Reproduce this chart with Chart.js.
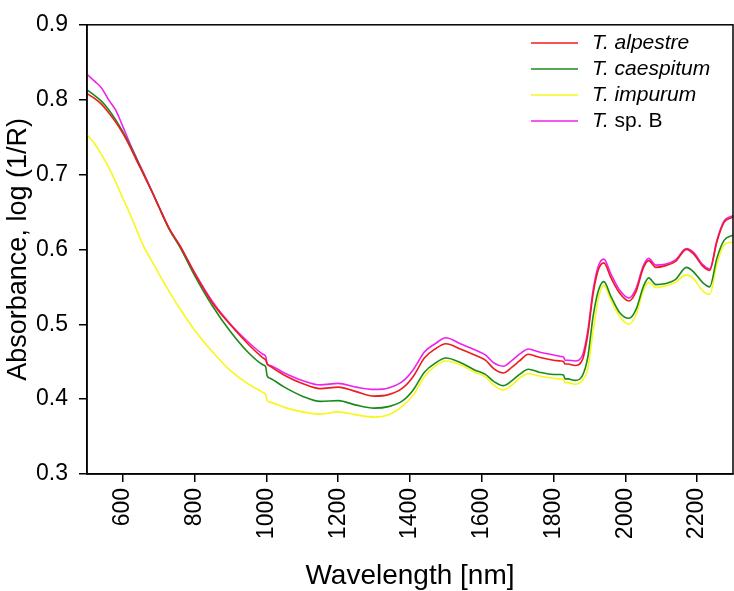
<!DOCTYPE html>
<html>
<head>
<meta charset="utf-8">
<script src="https://cdn.jsdelivr.net/npm/chart.js@4/dist/chart.umd.min.js"></script>
<style>
html,body{margin:0;padding:0;background:#fff;}
#wrap{width:734px;height:591px;position:relative;}
</style>
</head>
<body>
<div id="wrap"><canvas id="c" width="734" height="591"></canvas></div>
<script>
const wavelengths = [500,520,540,560,580,600,620,640,660,680,700,730,760,800,850,900,950,990,998,1002,1010,1050,1100,1150,1200,1250,1300,1340,1380,1410,1440,1470,1500,1540,1580,1610,1635,1660,1685,1705,1730,1760,1800,1820,1828,1832,1840,1860,1880,1895,1910,1925,1940,1960,1985,2010,2030,2050,2065,2085,2110,2140,2170,2190,2215,2235,2255,2275,2300];

const alpestre = [0.808,0.802,0.794,0.783,0.770,0.755,0.737,0.717,0.698,0.678,0.657,0.627,0.604,0.568,0.528,0.499,0.473,0.455,0.452,0.447,0.444,0.432,0.421,0.414,0.416,0.410,0.404,0.406,0.415,0.431,0.455,0.467,0.474,0.467,0.459,0.452,0.440,0.435,0.443,0.451,0.460,0.456,0.452,0.451,0.450,0.447,0.447,0.445,0.452,0.485,0.540,0.573,0.582,0.562,0.541,0.531,0.544,0.575,0.585,0.576,0.578,0.584,0.600,0.594,0.578,0.572,0.610,0.636,0.643];

const caespitum = [0.813,0.806,0.798,0.787,0.773,0.757,0.739,0.719,0.698,0.678,0.657,0.626,0.602,0.565,0.524,0.490,0.462,0.446,0.443,0.431,0.428,0.416,0.404,0.397,0.398,0.392,0.388,0.390,0.398,0.413,0.436,0.448,0.455,0.449,0.439,0.433,0.423,0.418,0.425,0.433,0.440,0.436,0.433,0.433,0.432,0.427,0.427,0.425,0.431,0.455,0.510,0.545,0.557,0.537,0.515,0.508,0.520,0.550,0.562,0.553,0.554,0.560,0.576,0.570,0.556,0.550,0.588,0.612,0.619];

const impurum = [0.753,0.742,0.727,0.710,0.690,0.668,0.647,0.624,0.602,0.585,0.568,0.543,0.520,0.492,0.463,0.438,0.420,0.409,0.406,0.398,0.396,0.389,0.383,0.380,0.383,0.379,0.376,0.379,0.391,0.406,0.430,0.444,0.451,0.446,0.436,0.430,0.418,0.412,0.419,0.428,0.434,0.431,0.428,0.427,0.426,0.422,0.422,0.420,0.425,0.440,0.490,0.535,0.552,0.532,0.510,0.500,0.513,0.545,0.556,0.549,0.551,0.556,0.566,0.561,0.545,0.540,0.580,0.606,0.610];

const spB = [0.834,0.825,0.816,0.800,0.786,0.764,0.741,0.720,0.700,0.679,0.658,0.627,0.604,0.569,0.530,0.500,0.476,0.460,0.457,0.447,0.445,0.435,0.425,0.419,0.421,0.416,0.413,0.415,0.424,0.440,0.463,0.474,0.482,0.474,0.466,0.459,0.448,0.444,0.452,0.460,0.467,0.463,0.459,0.457,0.456,0.452,0.452,0.451,0.458,0.490,0.545,0.578,0.587,0.567,0.545,0.535,0.548,0.578,0.588,0.579,0.580,0.586,0.601,0.596,0.580,0.574,0.612,0.638,0.645];

const xTicks = [600,800,1000,1200,1400,1600,1800,2000,2200];
const yTicks = [0.3,0.4,0.5,0.6,0.7,0.8,0.9];

const seriesItalic = ["T. alpestre","T. caespitum","T. impurum","T."];
const seriesPlain = ["","",""," sp. B"];
const seriesColors = ["#ee1c1c","#1b8a1b","#f7f71a","#ee22ee"];
const seriesValues = [alpestre, caespitum, impurum, spB];

const FONT = "'Liberation Sans', Arial, Helvetica, sans-serif";

const datasets = seriesValues.map((vals,i)=>({
  label: seriesItalic[i] + seriesPlain[i],
  data: wavelengths.map((w,j)=>({x:w,y:vals[j]})),
  borderColor: seriesColors[i],
  backgroundColor: seriesColors[i],
  borderWidth: 1.6,
  pointRadius: 0,
  cubicInterpolationMode: 'monotone',
  fill: false
}));

const frame = {
  id:'frame',
  afterDraw(chart){
    const {ctx, chartArea:a} = chart;
    ctx.save();
    ctx.strokeStyle = '#000';
    ctx.lineWidth = 1.5;
    ctx.strokeRect(a.left, a.top, a.right-a.left, a.bottom-a.top);
    const x0 = 531, x1 = 578, tx = 592;
    const ys = [43, 69, 95, 121];
    ctx.textBaseline = 'middle';
    chart.data.datasets.forEach((ds,i)=>{
      const y = ys[i];
      ctx.strokeStyle = ds.borderColor;
      ctx.lineWidth = 1.6;
      ctx.beginPath(); ctx.moveTo(x0,y); ctx.lineTo(x1,y); ctx.stroke();
      ctx.fillStyle = '#000';
      ctx.font = 'italic 21px ' + FONT;
      ctx.fillText(seriesItalic[i], tx, y);
      const w = ctx.measureText(seriesItalic[i]).width;
      if (seriesPlain[i]) {
        ctx.font = '21px ' + FONT;
        ctx.fillText(seriesPlain[i], tx + w, y);
      }
    });
    ctx.restore();
  }
};

new Chart(document.getElementById('c'), {
  type:'line',
  data:{datasets},
  plugins:[frame],
  options:{
    responsive:false,
    animation:false,
    layout:{padding:{top:8,right:1,left:0,bottom:0}},
    plugins:{legend:{display:false},tooltip:{enabled:false}},
    scales:{
      x:{
        type:'linear', min:500, max:2300,
        afterBuildTicks(s){ s.ticks = xTicks.map(v=>({value:v})); },
        afterFit(s){ s.height = 117; },
        border:{color:'#000',width:1.5},
        grid:{drawOnChartArea:false,drawTicks:true,tickLength:8,color:'#000',lineWidth:1.5},
        ticks:{color:'#000',font:{family:FONT,size:23},minRotation:90,maxRotation:90,autoSkip:false,padding:6,
               callback:v=>String(v)},
        title:{display:true,text:'Wavelength [nm]',color:'#000',font:{family:FONT,size:28,lineHeight:1},padding:{top:0,bottom:1}}
      },
      y:{
        type:'linear', min:0.3, max:0.9,
        afterBuildTicks(s){ s.ticks = yTicks.map(v=>({value:v})); },
        afterFit(s){ s.width = 87; },
        border:{color:'#000',width:1.5},
        grid:{drawOnChartArea:false,drawTicks:true,tickLength:8,color:'#000',lineWidth:1.5},
        ticks:{color:'#000',font:{family:FONT,size:23},padding:11,callback:v=>Number(v).toFixed(1)},
        title:{display:true,text:'Absorbance, log (1/R)',color:'#000',font:{family:FONT,size:27,lineHeight:1.2},padding:{top:2,bottom:2}}
      }
    }
  }
});
</script>
</body>
</html>
